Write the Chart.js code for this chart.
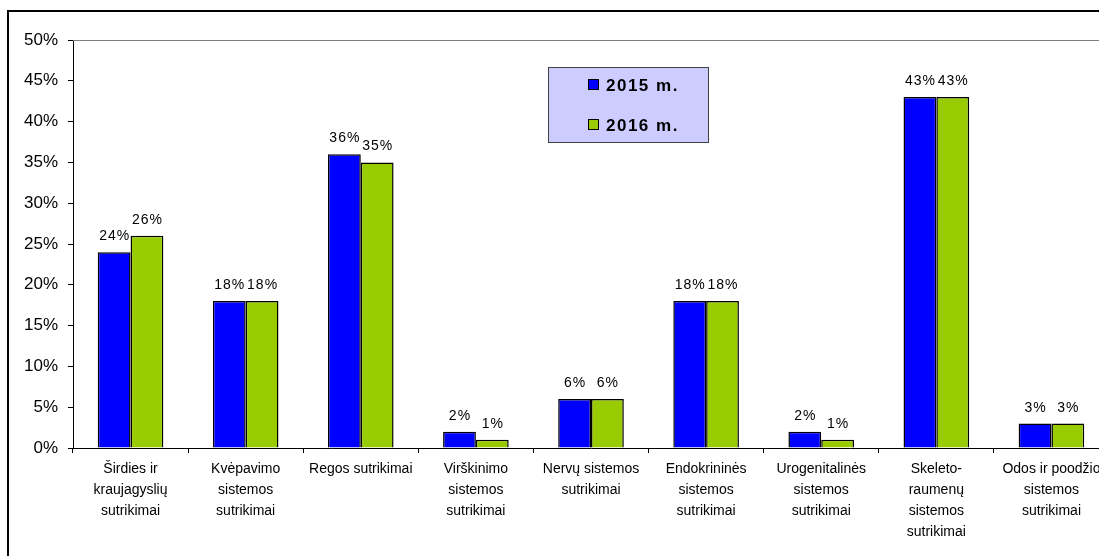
<!DOCTYPE html>
<html>
<head>
<meta charset="utf-8">
<script src="https://cdn.jsdelivr.net/npm/chart.js@4"></script>
<style>
  html, body { margin: 0; padding: 0; background: #fff; overflow: hidden; width: 1099px; height: 556px; }
  #frame { position: absolute; left: 7px; top: 10px; width: 1200px; height: 700px; border: 2px solid #000; box-sizing: border-box; }
  #c { position: absolute; left: 0; top: 0; }
</style>
</head>
<body>
<div id="frame"></div>
<canvas id="c" width="1130" height="600"></canvas>
<script>
const categories = [
  ["Širdies ir", "kraujagyslių", "sutrikimai"],
  ["Kvėpavimo", "sistemos", "sutrikimai"],
  ["Regos sutrikimai"],
  ["Virškinimo", "sistemos", "sutrikimai"],
  ["Nervų sistemos", "sutrikimai"],
  ["Endokrininės", "sistemos", "sutrikimai"],
  ["Urogenitalinės", "sistemos", "sutrikimai"],
  ["Skeleto-", "raumenų", "sistemos", "sutrikimai"],
  ["Odos ir poodžio", "sistemos", "sutrikimai"]
];
const seriesNames = ["2015 m.", "2016 m."];
const values2015 = [24, 18, 36, 2, 6, 18, 2, 43, 3];
const values2016 = [26, 18, 35, 1, 6, 18, 1, 43, 3];
const yTicks = [0, 5, 10, 15, 20, 25, 30, 35, 40, 45, 50];

const FONT = "'Liberation Sans', Arial, sans-serif";

const extras = {
  id: 'extras',
  beforeDatasetsDraw(chart) {
    const ctx = chart.ctx, a = chart.chartArea;
    ctx.save();
    ctx.strokeStyle = '#808080';
    ctx.lineWidth = 1;
    ctx.beginPath();
    ctx.moveTo(a.left, a.top + 0.5);
    ctx.lineTo(a.right, a.top + 0.5);
    ctx.stroke();
    ctx.restore();
  },
  afterDatasetsDraw(chart) {
    const ctx = chart.ctx;
    ctx.save();
    ctx.font = '14px ' + FONT;
    ctx.fillStyle = '#000';
    ctx.textAlign = 'center';
    ctx.textBaseline = 'alphabetic';
    try { ctx.letterSpacing = '1px'; } catch (e) {}
    chart.data.datasets.forEach((ds, i) => {
      chart.getDatasetMeta(i).data.forEach((bar, j) => {
        ctx.fillText(ds.data[j] + '%', bar.x + 0.5, bar.y - 12);
      });
    });
    // legend box
    const lx = 548, ly = 67, lw = 161, lh = 76;
    ctx.fillStyle = '#CCCCFF';
    ctx.fillRect(lx, ly, lw, lh);
    ctx.strokeStyle = '#404040';
    ctx.lineWidth = 1;
    ctx.strokeRect(lx + 0.5, ly + 0.5, lw - 1, lh - 1);
    ctx.font = 'bold 17px ' + FONT;
    try { ctx.letterSpacing = '1.5px'; } catch (e) {}
    ctx.textAlign = 'left';
    ctx.textBaseline = 'middle';
    chart.data.datasets.forEach((ds, i) => {
      const cy = 85 + i * 40;
      ctx.fillStyle = ds.backgroundColor;
      ctx.fillRect(588, cy - 6, 11, 11);
      ctx.strokeStyle = '#000';
      ctx.strokeRect(588.5, cy - 5.5, 10, 10);
      ctx.fillStyle = '#000';
      ctx.fillText(ds.label, 606, cy + 1);
    });
    ctx.restore();
  }
};

new Chart(document.getElementById('c'), {
  type: 'bar',
  data: {
    labels: categories,
    datasets: [
      { label: seriesNames[0], data: values2015, backgroundColor: '#0000FF', borderColor: '#000', borderWidth: 1.5 },
      { label: seriesNames[1], data: values2016, backgroundColor: '#99CC00', borderColor: '#000', borderWidth: 1.5 }
    ]
  },
  options: {
    responsive: false,
    animation: false,
    categoryPercentage: 0.57,
    barPercentage: 1,
    layout: { autoPadding: false, padding: { top: 40, right: 21, bottom: 0, left: 0 } },
    plugins: { legend: { display: false }, tooltip: { enabled: false } },
    scales: {
      x: {
        afterFit(s) { s.height = 152; },
        grid: { offset: true, drawOnChartArea: false, drawTicks: true, tickLength: 5, color: '#000' },
        border: { display: true, color: '#000', width: 1 },
        ticks: { color: '#000', font: { family: FONT, size: 14, lineHeight: 1.5 }, padding: 6, maxRotation: 0, autoSkip: false }
      },
      y: {
        min: 0, max: 50,
        afterFit(s) { s.width = 73; },
        afterBuildTicks(s) { s.ticks = yTicks.map(v => ({ value: v })); },
        grid: { drawOnChartArea: false, drawTicks: true, tickLength: 5, color: '#000' },
        border: { display: true, color: '#000', width: 1 },
        ticks: { color: '#000', font: { family: FONT, size: 17 }, padding: 10, callback: v => v + '%' }
      }
    }
  },
  plugins: [extras]
});
</script>
</body>
</html>
